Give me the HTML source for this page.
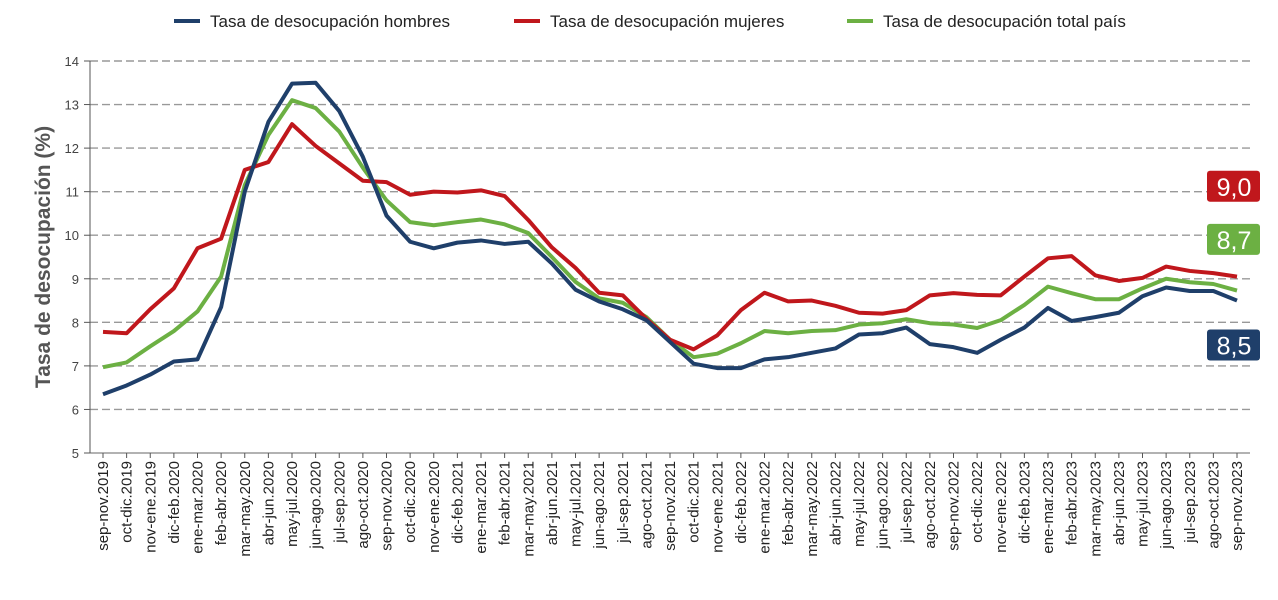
<!DOCTYPE html>
<html><head><meta charset="utf-8"><style>
body{margin:0;background:#fff;}
svg text{font-family:"Liberation Sans",sans-serif;}
</style></head><body>
<svg id="chart" width="1278" height="595" viewBox="0 0 1278 595">
<g id="grid"></g><g id="axes"></g><g id="series"></g><g id="legend"></g><g id="badges"></g>
<text transform="translate(50,257) rotate(-90)" text-anchor="middle" font-size="21" font-weight="bold" fill="#555">Tasa de desocupación (%)</text>
</svg>
<script>
const categories=["sep-nov.2019","oct-dic.2019","nov-ene.2019","dic-feb.2020","ene-mar.2020","feb-abr.2020","mar-may.2020","abr-jun.2020","may-jul.2020","jun-ago.2020","jul-sep.2020","ago-oct.2020","sep-nov.2020","oct-dic.2020","nov-ene.2020","dic-feb.2021","ene-mar.2021","feb-abr.2021","mar-may.2021","abr-jun.2021","may-jul.2021","jun-ago.2021","jul-sep.2021","ago-oct.2021","sep-nov.2021","oct-dic.2021","nov-ene.2021","dic-feb.2022","ene-mar.2022","feb-abr.2022","mar-may.2022","abr-jun.2022","may-jul.2022","jun-ago.2022","jul-sep.2022","ago-oct.2022","sep-nov.2022","oct-dic.2022","nov-ene.2022","dic-feb.2023","ene-mar.2023","feb-abr.2023","mar-may.2023","abr-jun.2023","may-jul.2023","jun-ago.2023","jul-sep.2023","ago-oct.2023","sep-nov.2023"];
const hombres=[6.35,6.55,6.8,7.1,7.15,8.35,11.0,12.6,13.48,13.5,12.85,11.8,10.45,9.85,9.7,9.83,9.88,9.8,9.85,9.35,8.75,8.48,8.3,8.05,7.55,7.05,6.95,6.95,7.15,7.2,7.3,7.4,7.72,7.75,7.88,7.5,7.43,7.3,7.6,7.88,8.33,8.03,8.12,8.22,8.6,8.8,8.72,8.72,8.5];
const mujeres=[7.78,7.75,8.3,8.78,9.7,9.92,11.5,11.68,12.55,12.05,11.65,11.25,11.22,10.93,11.0,10.98,11.03,10.9,10.35,9.72,9.25,8.68,8.62,8.08,7.6,7.38,7.7,8.28,8.68,8.48,8.5,8.38,8.22,8.2,8.28,8.62,8.67,8.63,8.62,9.05,9.47,9.52,9.08,8.95,9.02,9.28,9.18,9.13,9.05];
const total=[6.97,7.08,7.45,7.8,8.25,9.05,11.15,12.3,13.1,12.92,12.38,11.55,10.8,10.3,10.23,10.3,10.36,10.25,10.05,9.5,8.93,8.55,8.45,8.12,7.6,7.2,7.28,7.52,7.8,7.75,7.8,7.82,7.95,7.98,8.07,7.98,7.95,7.87,8.05,8.4,8.82,8.67,8.53,8.53,8.78,9.0,8.92,8.88,8.73];
const yTicks=[5,6,7,8,9,10,11,12,13,14];
const seriesNames=["Tasa de desocupación hombres","Tasa de desocupación mujeres","Tasa de desocupación total país"];
const badgeLabels=["9,0","8,7","8,5"];
const badgeValues=[9.0,8.7,8.5];

const NS="http://www.w3.org/2000/svg";
const x0=103,x1=1237,yTop=61,yBot=453,vMin=5,vMax=14;
const X=i=>x0+i*(x1-x0)/(categories.length-1);
const Y=v=>yBot-(v-vMin)*(yBot-yTop)/(vMax-vMin);
function mk(tag,attrs,parent,txt){const e=document.createElementNS(NS,tag);for(const k in attrs)e.setAttribute(k,attrs[k]);if(txt!==undefined)e.textContent=txt;parent.appendChild(e);return e;}
const grid=document.getElementById('grid'),axes=document.getElementById('axes'),ser=document.getElementById('series'),leg=document.getElementById('legend'),bad=document.getElementById('badges');

yTicks.forEach(t=>{
  const l=mk('line',{x1:90,x2:1250,y1:Y(t),y2:Y(t),stroke:'#999','stroke-width':1.4,'stroke-dasharray':t===5?'none':'8,4'},grid);
  
  
  const tk=mk('line',{x1:84,x2:90,y1:Y(t),y2:Y(t),stroke:'#555'},axes);
  
  
  const tx=mk('text',{x:79,y:Y(t)+5,'text-anchor':'end','font-size':13,fill:'#444'},axes,String(t));
  
  
});
const ax=mk('line',{x1:90,x2:90,y1:yTop,y2:yBot,stroke:'#555'},axes);


categories.forEach((c,i)=>{
  const tk=mk('line',{x1:X(i),x2:X(i),y1:yBot,y2:yBot+5,stroke:'#555'},axes);
  
  
  const t=mk('text',{transform:`translate(${X(i)+5},${yBot+8}) rotate(-90)`,'text-anchor':'end','font-size':15,fill:'#222'},axes,c);
  
  
});
const colors=['#1f3f6a','#c0171c','#6cb043'];
[total,mujeres,hombres].forEach((d,k)=>{
  const col=[colors[2],colors[1],colors[0]][k];
  const p=mk('polyline',{points:d.map((v,i)=>X(i)+','+Y(v)).join(' '),fill:'none',stroke:col,'stroke-width':4,'stroke-linejoin':'round'},ser);
  
  
});
const legX=[174,514,847];
seriesNames.forEach((n,k)=>{
  const g=mk('g',{},leg);
  
  
  mk('line',{x1:legX[k],x2:legX[k]+26,y1:21,y2:21,stroke:colors[k],'stroke-width':4},g);
  mk('text',{x:legX[k]+36,y:27,'font-size':17,fill:'#222'},g,n);
});
const badgeColors=['#c0171c','#6cb043','#1f3f6a'];
const badgeOffset=[-108,-68,29];
badgeLabels.forEach((b,k)=>{
  const by=Y(badgeValues[k])+badgeOffset[k];
  const g=mk('g',{},bad);
  
  
  mk('rect',{x:1207,y:by,width:53,height:31,rx:3,fill:badgeColors[k]},g);
  mk('text',{x:1234,y:by+25,'text-anchor':'middle','font-size':25,fill:'#fff'},g,b);
});
</script>
</body></html>
